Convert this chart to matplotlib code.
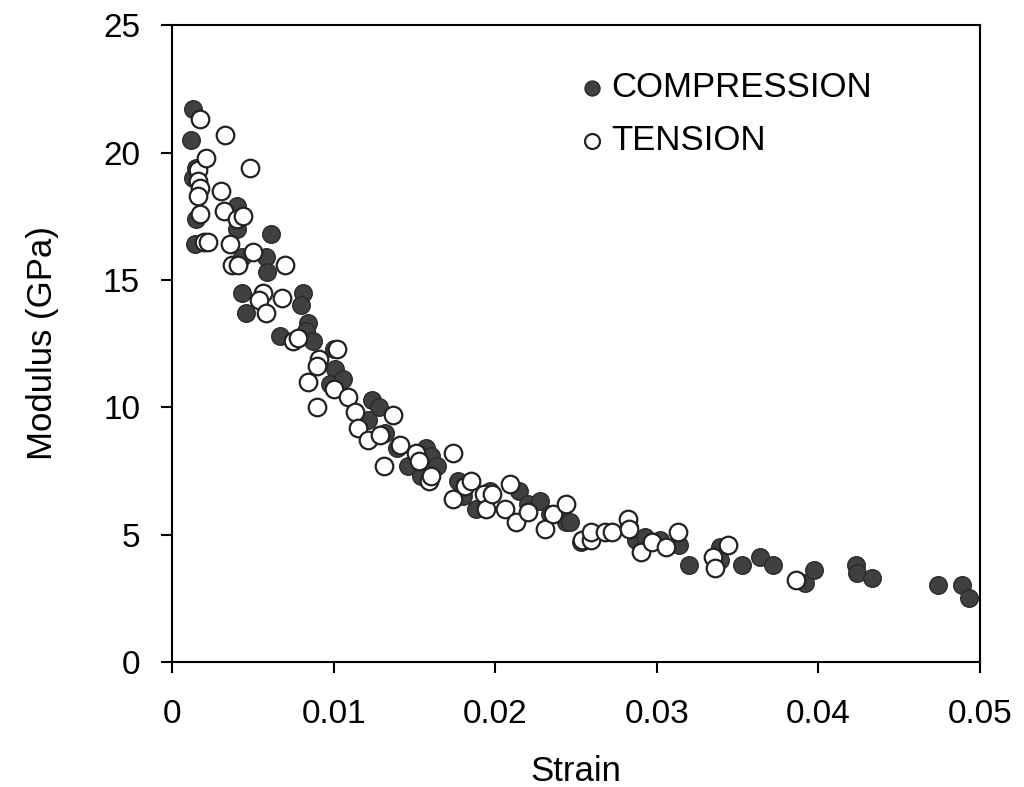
import numpy as np
import matplotlib.pyplot as plt

plt.rcParams['font.family'] = ['Liberation Sans', 'DejaVu Sans']

# compression (filled markers)
comp_strain = [0.0013, 0.0012, 0.0013, 0.0015, 0.0015, 0.0014, 0.0040, 0.0040, 0.0043,
               0.0043, 0.0046, 0.0061, 0.0058, 0.0059, 0.0081, 0.0080, 0.0084, 0.0083,
               0.0087, 0.0067, 0.0100, 0.0101, 0.0098, 0.0106, 0.0124, 0.0128, 0.0121,
               0.0132, 0.0139, 0.0146, 0.0154, 0.0157, 0.0160, 0.0164, 0.0177, 0.0180,
               0.0188, 0.0197, 0.0215, 0.0220, 0.0228, 0.0234, 0.0244, 0.0246, 0.0253,
               0.0283, 0.0287, 0.0293, 0.0302, 0.0314, 0.0320, 0.0339, 0.0339, 0.0353,
               0.0364, 0.0372, 0.0392, 0.0397, 0.0423, 0.0424, 0.0433, 0.0474, 0.0489,
               0.0493]
comp_mod = [21.7, 20.5, 19.0, 19.4, 17.4, 16.4, 17.9, 17.0, 15.9,
            14.5, 13.7, 16.8, 15.9, 15.3, 14.5, 14.0, 13.3, 13.0,
            12.6, 12.8, 12.3, 11.5, 10.9, 11.1, 10.3, 10.0, 9.5,
            9.0, 8.4, 7.7, 7.3, 8.4, 8.1, 7.7, 7.1, 6.5,
            6.0, 6.7, 6.7, 6.2, 6.3, 5.8, 5.5, 5.5, 4.7,
            5.3, 4.8, 4.9, 4.8, 4.6, 3.8, 4.5, 4.0, 3.8,
            4.1, 3.8, 3.1, 3.6, 3.8, 3.5, 3.3, 3.0, 3.0,
            2.5]

# tension (open markers)
tens_strain = [0.0017, 0.0033, 0.0016, 0.0016, 0.0017, 0.0016, 0.0021, 0.0048, 0.0030,
               0.0032, 0.0040, 0.0044, 0.0017, 0.0020, 0.0022, 0.0036, 0.0050, 0.0037,
               0.0041, 0.0056, 0.0068, 0.0054, 0.0058, 0.0070, 0.0075, 0.0078, 0.0084,
               0.0091, 0.0090, 0.0090, 0.0100, 0.0102, 0.0109, 0.0113, 0.0115, 0.0121,
               0.0129, 0.0131, 0.0137, 0.0141, 0.0151, 0.0153, 0.0159, 0.0160, 0.0174,
               0.0174, 0.0181, 0.0185, 0.0193, 0.0194, 0.0198, 0.0206, 0.0209, 0.0213,
               0.0220, 0.0231, 0.0236, 0.0244, 0.0254, 0.0259, 0.0259, 0.0268, 0.0272,
               0.0282, 0.0283, 0.0290, 0.0297, 0.0306, 0.0313, 0.0335, 0.0336, 0.0344,
               0.0386]
tens_mod = [21.3, 20.7, 19.3, 18.9, 18.6, 18.3, 19.8, 19.4, 18.5,
            17.7, 17.4, 17.5, 17.6, 16.5, 16.5, 16.4, 16.1, 15.6,
            15.6, 14.5, 14.3, 14.2, 13.7, 15.6, 12.6, 12.7, 11.0,
            11.9, 11.6, 10.0, 10.7, 12.3, 10.4, 9.8, 9.2, 8.7,
            8.9, 7.7, 9.7, 8.5, 8.2, 7.9, 7.1, 7.3, 8.2,
            6.4, 6.9, 7.1, 6.6, 6.0, 6.6, 6.0, 7.0, 5.5,
            5.9, 5.2, 5.8, 6.2, 4.8, 4.8, 5.1, 5.1, 5.1,
            5.6, 5.2, 4.3, 4.7, 4.5, 5.1, 4.1, 3.7, 4.6,
            3.2]

fig = plt.figure(figsize=(10.24, 7.87), dpi=100)
ax = fig.add_axes([0.168, 0.159, 0.789, 0.809])

ax.scatter(comp_strain, comp_mod, s=160, c='#404040', edgecolors='#2a2a2a',
           linewidths=1.0, label='COMPRESSION', zorder=3)
ax.scatter(tens_strain, tens_mod, s=160, c='white', edgecolors='#222222',
           linewidths=1.6, label='TENSION', zorder=3)

ax.set_xlim(0, 0.05)
ax.set_ylim(0, 25)
ax.set_xticks([0, 0.01, 0.02, 0.03, 0.04, 0.05])
ax.set_xticklabels(['0', '0.01', '0.02', '0.03', '0.04', '0.05'])
ax.set_yticks([0, 5, 10, 15, 20, 25])
ax.tick_params(direction='out', length=8, width=1.5, labelsize=24)
ax.tick_params(axis='x', pad=19)
ax.tick_params(axis='y', pad=15)
for sp in ax.spines.values():
    sp.set_linewidth(1.5)

ax.set_xlabel('Strain', fontsize=25, labelpad=18)
ax.set_ylabel('Modulus (GPa)', fontsize=25, labelpad=32)

ax.legend(loc='upper left', bbox_to_anchor=(0.509, 0.928), frameon=False,
          fontsize=25, borderpad=0, borderaxespad=0, handlelength=0.5,
          handletextpad=0.3, labelspacing=0.58, markerscale=0.85)

plt.savefig('out.png')
